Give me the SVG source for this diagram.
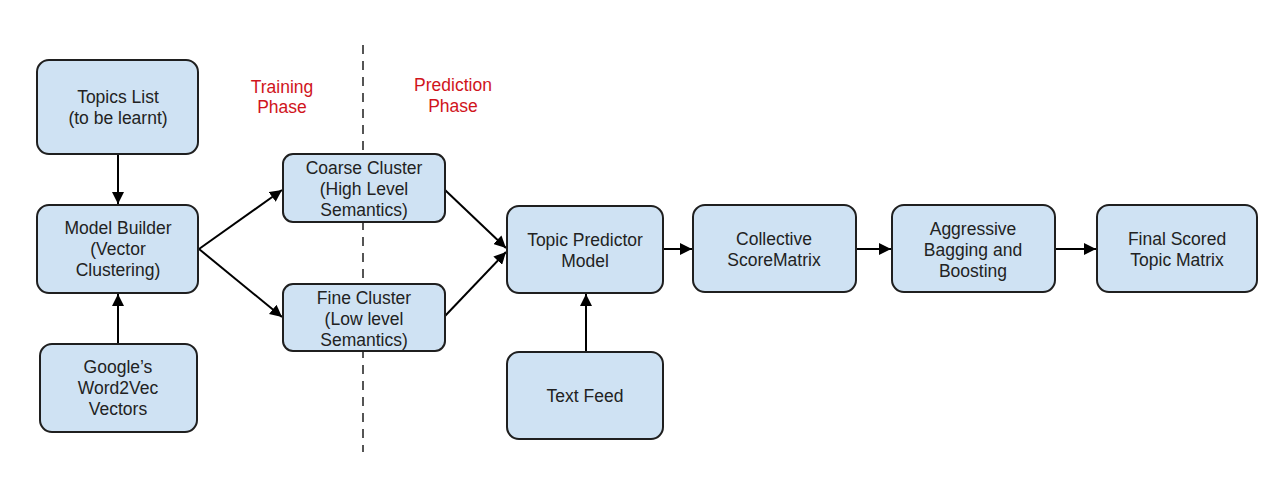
<svg xmlns="http://www.w3.org/2000/svg" width="1269" height="500" viewBox="0 0 1269 500">
<defs>
<style>
.box{fill:#cfe2f3;stroke:#1f1f1f;stroke-width:2}
.t{font-family:"Liberation Sans",Arial,sans-serif;font-size:17.5px;fill:#222;text-anchor:middle}
.r{font-family:"Liberation Sans",Arial,sans-serif;font-size:17.5px;fill:#d0141c;text-anchor:middle}
.c{stroke:#000;stroke-width:2;fill:none;marker-end:url(#ah)}
</style>
<marker id="ah" viewBox="0 0 10 10" refX="10" refY="5" markerWidth="6" markerHeight="6" orient="auto" markerUnits="strokeWidth">
<path d="M0,0 L10,5 L0,10 z" fill="#000"/>
</marker>
</defs>
<rect width="1269" height="500" fill="#fff"/>
<line x1="363" y1="45" x2="363" y2="452" stroke="#555" stroke-width="2" stroke-dasharray="9,7"/>
<text class="r" x="282" y="93">Training</text>
<text class="r" x="282" y="113">Phase</text>
<text class="r" x="453" y="91">Prediction</text>
<text class="r" x="453" y="112">Phase</text>
<g id="connectors">
<line class="c" x1="118" y1="154" x2="118" y2="204"/>
<line class="c" x1="118" y1="344" x2="118" y2="294"/>
<line class="c" x1="199" y1="249" x2="282" y2="190"/>
<line class="c" x1="199" y1="249" x2="282" y2="317"/>
<line class="c" x1="445" y1="190" x2="506" y2="248"/>
<line class="c" x1="445" y1="316" x2="506" y2="252"/>
<line class="c" x1="663" y1="249" x2="692" y2="249"/>
<line class="c" x1="856" y1="249" x2="891" y2="249"/>
<line class="c" x1="1055" y1="249" x2="1096" y2="249"/>
<line class="c" x1="586" y1="352" x2="586" y2="294"/>
</g>
<g id="topics">
<rect class="box" x="37" y="60" width="161" height="94" rx="12"/>
<text class="t" x="118" y="103">Topics List</text>
<text class="t" x="118" y="124">(to be learnt)</text>
</g>
<g id="modelbuilder">
<rect class="box" x="37" y="205" width="161" height="88" rx="12"/>
<text class="t" x="118" y="234">Model Builder</text>
<text class="t" x="118" y="255">(Vector</text>
<text class="t" x="118" y="276">Clustering)</text>
</g>
<g id="google">
<rect class="box" x="40" y="344" width="157" height="88" rx="12"/>
<text class="t" x="118" y="373">Google’s</text>
<text class="t" x="118" y="394">Word2Vec</text>
<text class="t" x="118" y="415">Vectors</text>
</g>
<g id="coarse">
<rect class="box" x="283" y="154" width="162" height="68" rx="10"/>
<text class="t" x="364" y="174">Coarse Cluster</text>
<text class="t" x="364" y="195">(High Level</text>
<text class="t" x="364" y="216">Semantics)</text>
</g>
<g id="fine">
<rect class="box" x="283" y="284" width="162" height="67" rx="10"/>
<text class="t" x="364" y="304">Fine Cluster</text>
<text class="t" x="364" y="325">(Low level</text>
<text class="t" x="364" y="346">Semantics)</text>
</g>
<g id="predictor">
<rect class="box" x="507" y="206" width="156" height="87" rx="12"/>
<text class="t" x="585" y="246">Topic Predictor</text>
<text class="t" x="585" y="267">Model</text>
</g>
<g id="textfeed">
<rect class="box" x="507" y="352" width="156" height="87" rx="12"/>
<text class="t" x="585" y="402">Text Feed</text>
</g>
<g id="collective">
<rect class="box" x="693" y="205" width="163" height="87" rx="12"/>
<text class="t" x="774" y="245">Collective</text>
<text class="t" x="774" y="266">ScoreMatrix</text>
</g>
<g id="aggressive">
<rect class="box" x="892" y="205" width="163" height="87" rx="12"/>
<text class="t" x="973" y="235">Aggressive</text>
<text class="t" x="973" y="256">Bagging and</text>
<text class="t" x="973" y="277">Boosting</text>
</g>
<g id="final">
<rect class="box" x="1097" y="205" width="160" height="87" rx="12"/>
<text class="t" x="1177" y="245">Final Scored</text>
<text class="t" x="1177" y="266">Topic Matrix</text>
</g>
</svg>
